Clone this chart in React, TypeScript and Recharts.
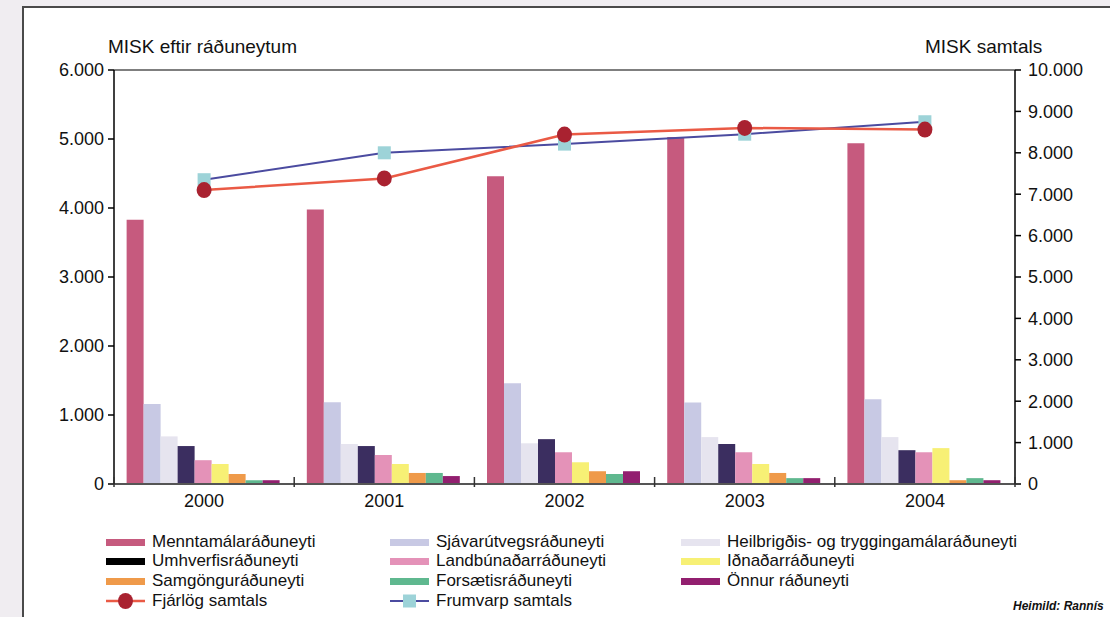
import { ComposedChart, Bar, Line, XAxis, YAxis, ReferenceLine } from 'recharts';

const years = ['2000', '2001', '2002', '2003', '2004'];

const menntamal = [3830, 3980, 4460, 5030, 4940];
const sjavarutvegs = [1160, 1185, 1460, 1180, 1230];
const heilbrigdis = [690, 580, 590, 680, 680];
const umhverfis = [550, 550, 650, 580, 490];
const landbunadar = [345, 420, 460, 460, 460];
const idnadar = [290, 290, 315, 290, 520];
const samgongu = [145, 160, 185, 160, 55];
const forsaetis = [55, 160, 145, 85, 85];
const onnur = [55, 115, 185, 85, 55];

const fjarlogSamtals = [7100, 7380, 8440, 8600, 8560];
const frumvarpSamtals = [7350, 8000, 8210, 8450, 8750];

const leftTicks = [0, 1000, 2000, 3000, 4000, 5000, 6000];
const rightTicks = [0, 1000, 2000, 3000, 4000, 5000, 6000, 7000, 8000, 9000, 10000];

const barSeries = [
  { key: 'mennt', name: 'Menntamálaráðuneyti', values: menntamal, color: '#c65a7e', legend: '#c65a7e' },
  { key: 'sjavar', name: 'Sjávarútvegsráðuneyti', values: sjavarutvegs, color: '#c8c9e4', legend: '#c8c9e4' },
  { key: 'heilbr', name: 'Heilbrigðis- og tryggingamálaráðuneyti', values: heilbrigdis, color: '#e6e4ef', legend: '#e6e4ef' },
  { key: 'umhv', name: 'Umhverfisráðuneyti', values: umhverfis, color: '#3b2e60', legend: '#000000' },
  { key: 'landb', name: 'Landbúnaðarráðuneyti', values: landbunadar, color: '#e492b8', legend: '#e492b8' },
  { key: 'idn', name: 'Iðnaðarráðuneyti', values: idnadar, color: '#f7f075', legend: '#f7f075' },
  { key: 'samg', name: 'Samgönguráðuneyti', values: samgongu, color: '#ef9a4a', legend: '#ef9a4a' },
  { key: 'fors', name: 'Forsætisráðuneyti', values: forsaetis, color: '#5fb88f', legend: '#5fb88f' },
  { key: 'onnur', name: 'Önnur ráðuneyti', values: onnur, color: '#921f6f', legend: '#921f6f' },
];

const data = years.map((year, i) => {
  const row: Record<string, string | number> = { year };
  barSeries.forEach((s) => {
    row[s.key] = s.values[i];
  });
  row.fjarlog = fjarlogSamtals[i];
  row.frumvarp = frumvarpSamtals[i];
  return row;
});

const FONT = '"Liberation Sans", Arial, Helvetica, sans-serif';

const fmt = (v: number) => (v === 0 ? '0' : v.toLocaleString('de-DE'));

function YearTick(props: any) {
  const { x, y, payload, index, visibleTicksCount } = props;
  const off = payload && payload.offset ? payload.offset : 90;
  return (
    <g>
      <line x1={x - off} x2={x - off} y1={y - 17} y2={y - 7} stroke="#333" strokeWidth={1.5} />
      {index === visibleTicksCount - 1 && (
        <line x1={x + off} x2={x + off} y1={y - 17} y2={y - 7} stroke="#333" strokeWidth={1.5} />
      )}
      <text x={x} y={y} dy="0.71em" textAnchor="middle" fontSize={18} fill="#111" fontFamily={FONT}>
        {payload.value}
      </text>
    </g>
  );
}

function RedDot(props: any) {
  const { cx, cy } = props;
  if (cx == null || cy == null) return null;
  return <ellipse cx={cx} cy={cy} rx={7.5} ry={8} fill="#a92230" />;
}

function SquareDot(props: any) {
  const { cx, cy } = props;
  if (cx == null || cy == null) return null;
  return <rect x={cx - 6.5} y={cy - 6.5} width={13} height={13} fill="#9dd3d8" />;
}

const legendRows = [
  [barSeries[0], barSeries[1], barSeries[2]],
  [barSeries[3], barSeries[4], barSeries[5]],
  [barSeries[6], barSeries[7], barSeries[8]],
];
const legendColX = [106, 390, 681];
const legendRowY = [542, 561, 581, 601];

const legendItemStyle = (left: number, cy: number): any => ({
  position: 'absolute',
  left,
  top: cy - 10,
  height: 20,
  display: 'flex',
  alignItems: 'center',
  gap: 7,
  fontSize: 17,
  color: '#111',
  whiteSpace: 'nowrap',
});

export default function App() {
  return (
    <div
      style={{
        position: 'absolute',
        left: 0,
        top: 0,
        width: 1110,
        height: 617,
        background: '#f0edf1',
        overflow: 'hidden',
        fontFamily: FONT,
      }}
    >
      {/* white panel */}
      <div
        style={{
          position: 'absolute',
          left: 22,
          top: 6,
          width: 1200,
          height: 700,
          background: '#fff',
          borderLeft: '2px solid #4a4a4a',
          borderTop: '2px solid #4a4a4a',
        }}
      />

      <div style={{ position: 'absolute', left: 0, top: 0 }}>
        <ComposedChart
          width={1110}
          height={617}
          data={data}
          margin={{ top: 70, right: 15, bottom: 103, left: 54 }}
          barGap={0}
          barCategoryGap="7%"
        >
          <XAxis
            dataKey="year"
            tickLine={false}
            tickSize={0}
            tickMargin={10}
            axisLine={{ stroke: '#555', strokeWidth: 2 }}
            tick={<YearTick />}
          />
          <YAxis
            yAxisId="left"
            width={60}
            domain={[0, 6000]}
            ticks={leftTicks}
            tickFormatter={fmt}
            tickSize={6}
            tickMargin={4}
            tickLine={{ stroke: '#000', strokeWidth: 1.5 }}
            axisLine={{ stroke: '#000', strokeWidth: 1.5 }}
            tick={{ fill: '#111', fontSize: 18, fontFamily: FONT }}
          />
          <YAxis
            yAxisId="right"
            orientation="right"
            width={80}
            domain={[0, 10000]}
            ticks={rightTicks}
            tickFormatter={fmt}
            tickSize={6}
            tickMargin={7}
            tickLine={{ stroke: '#000', strokeWidth: 1.5 }}
            axisLine={{ stroke: '#000', strokeWidth: 1.5 }}
            tick={{ fill: '#111', fontSize: 18, fontFamily: FONT, textAnchor: 'start' }}
          />
          <ReferenceLine yAxisId="left" y={6000} stroke="#000" strokeWidth={1.2} />
          {barSeries.map((s) => (
            <Bar key={s.key} dataKey={s.key} name={s.name} yAxisId="left" fill={s.color} isAnimationActive={false} />
          ))}
          <Line
            dataKey="frumvarp"
            name="Frumvarp samtals"
            yAxisId="right"
            stroke="#4b4ba0"
            strokeWidth={2}
            dot={<SquareDot />}
            activeDot={false}
            isAnimationActive={false}
          />
          <Line
            dataKey="fjarlog"
            name="Fjárlög samtals"
            yAxisId="right"
            stroke="#ea5a45"
            strokeWidth={2.5}
            dot={<RedDot />}
            activeDot={false}
            isAnimationActive={false}
          />
        </ComposedChart>
      </div>

      {/* axis titles */}
      <div style={{ position: 'absolute', left: 108, top: 36, fontSize: 19, color: '#111', whiteSpace: 'nowrap' }}>
        MISK eftir ráðuneytum
      </div>
      <div style={{ position: 'absolute', left: 925, top: 36, fontSize: 19, color: '#111', whiteSpace: 'nowrap' }}>
        MISK samtals
      </div>

      {/* legend */}
      {legendRows.map((row, r) =>
        row.map((s, c) => (
          <div key={s.key} style={legendItemStyle(legendColX[c], legendRowY[r])}>
            <div style={{ width: 39, height: 7, background: s.legend }} />
            <span>{s.name}</span>
          </div>
        ))
      )}
      <div style={legendItemStyle(legendColX[0], legendRowY[3])}>
        <svg width={39} height={18}>
          <line x1={0} x2={39} y1={9} y2={9} stroke="#ea5a45" strokeWidth={2.5} />
          <ellipse cx={19.5} cy={9} rx={7.5} ry={8} fill="#a92230" />
        </svg>
        <span>Fjárlög samtals</span>
      </div>
      <div style={legendItemStyle(legendColX[1], legendRowY[3])}>
        <svg width={39} height={18}>
          <line x1={0} x2={39} y1={9} y2={9} stroke="#4b4ba0" strokeWidth={2} />
          <rect x={13} y={2.5} width={13} height={13} fill="#9dd3d8" />
        </svg>
        <span>Frumvarp samtals</span>
      </div>

      <div
        style={{
          position: 'absolute',
          left: 1013,
          top: 599,
          fontSize: 12,
          fontWeight: 'bold',
          fontStyle: 'italic',
          color: '#111',
          whiteSpace: 'nowrap',
        }}
      >
        Heimild: Rannís
      </div>
    </div>
  );
}
